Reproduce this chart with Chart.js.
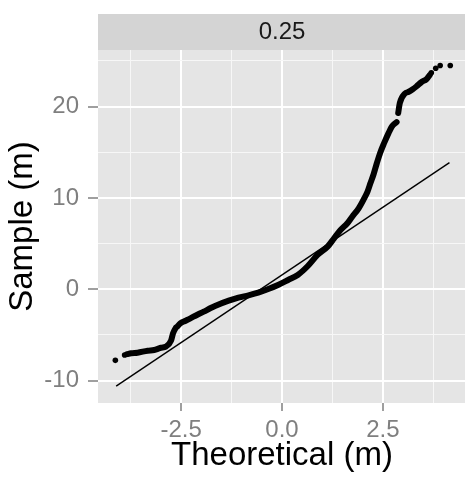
<!DOCTYPE html>
<html>
<head>
<meta charset="utf-8">
<script src="https://cdn.jsdelivr.net/npm/chart.js@4/dist/chart.umd.min.js"></script>
<style>
  html, body { margin: 0; padding: 0; background: #fff; overflow: hidden; }
  #wrap { position: relative; width: 470px; height: 477px; }
</style>
</head>
<body>
<div id="wrap"><canvas id="qq"></canvas></div>
<script>
  // facet label and axis setup
  const facetLabel = "0.25";
  const xTicks = [-3.75, -2.5, -1.25, 0, 1.25, 2.5, 3.75];
  const xLabelled = [-2.5, 0, 2.5];
  const yTicks = [-10, -5, 0, 5, 10, 15, 20, 25];
  const yLabelled = [-10, 0, 10, 20];

  // dense body of the sample quantiles
  const theoBody = [-3.84, -3.74, -3.58, -3.33, -3.17, -3.0, -2.88, -2.75, -2.70, -2.64, -2.60, -2.52, -2.39, -2.27, -2.11, -1.94,
    -1.78, -1.66, -1.32, -1.08, -0.83, -0.59, -0.34, -0.10, 0.15, 0.39, 0.64, 0.88, 1.13, 1.29, 1.45, 1.62, 1.74, 1.90,
    2.03, 2.12, 2.19, 2.27, 2.35, 2.43, 2.53, 2.64, 2.72, 2.84, 2.86, 2.88, 2.92, 3.05, 3.13, 3.24, 3.33, 3.46, 3.58, 3.66];
  const sampleBody = [-7.1, -7.0, -6.94, -6.72, -6.65, -6.4, -6.28, -5.63, -4.82, -4.27, -4.1, -3.72, -3.44, -3.18, -2.81, -2.45,
    -2.08, -1.83, -1.25, -0.92, -0.66, -0.37, 0.03, 0.47, 1.02, 1.57, 2.55, 3.76, 4.67, 5.58, 6.5, 7.23, 7.95, 8.87,
    9.9, 10.7, 11.6, 12.6, 13.8, 14.9, 16.0, 17.1, 17.8, 18.3, null, 19.3, 20.4, 21.45, 21.6, 21.9, 22.2, 22.7, 23.0, 23.45];

  // sparse extreme points
  const theoTail = [-4.13, -3.90, 3.70, 3.81, 3.92, 4.17];
  const sampleTail = [-7.78, -7.2, 23.7, 24.2, 24.5, 24.5];

  // reference line
  const lineTheo = [-4.11, 4.15];
  const lineSample = [-10.6, 13.87];

  const pts = (xs, ys) => xs.map((x, i) => ({ x: x, y: ys[i] }));
  const isIn = (list, v) => list.some((t) => Math.abs(t - v) < 1e-6);

  const font = "'Liberation Sans', Arial, sans-serif";

  const panelPlugin = {
    id: "panel",
    beforeDraw(chart) {
      const { ctx, chartArea: a } = chart;
      ctx.save();
      ctx.fillStyle = "#E5E5E5";
      ctx.fillRect(a.left, a.top, a.right - a.left, a.bottom - a.top);
      ctx.fillStyle = "#D4D4D4";
      ctx.fillRect(a.left, 14, a.right - a.left, a.top - 14);
      ctx.fillStyle = "#1A1A1A";
      ctx.font = "24px " + font;
      ctx.textAlign = "center";
      ctx.textBaseline = "middle";
      ctx.fillText(facetLabel, (a.left + a.right) / 2, 32);
      ctx.restore();
    }
  };

  new Chart(document.getElementById("qq"), {
    type: "scatter",
    data: {
      datasets: [
        {
          data: pts(theoBody, sampleBody),
          showLine: true,
          spanGaps: false,
          borderColor: "#000",
          borderWidth: 6,
          borderCapStyle: "round",
          borderJoinStyle: "round",
          cubicInterpolationMode: "monotone",
          pointRadius: 0
        },
        {
          data: pts(theoTail, sampleTail),
          backgroundColor: "#000",
          borderWidth: 0,
          pointRadius: 2.8
        },
        {
          data: pts(lineTheo, lineSample),
          showLine: true,
          borderColor: "#000",
          borderWidth: 1.4,
          pointRadius: 0
        }
      ]
    },
    options: {
      responsive: true,
      maintainAspectRatio: false,
      animation: false,
      layout: { padding: { top: 50, left: 0, right: 0, bottom: 0 } },
      plugins: { legend: { display: false }, tooltip: { enabled: false } },
      scales: {
        x: {
          type: "linear",
          min: -4.56,
          max: 4.56,
          afterBuildTicks: (scale) => { scale.ticks = xTicks.map((v) => ({ value: v })); },
          afterFit: (scale) => { scale.height = 74; },
          border: { display: false },
          grid: {
            color: (c) => isIn(xLabelled, c.tick.value) ? "#FFFFFF" : "#F7F7F7",
            lineWidth: (c) => isIn(xLabelled, c.tick.value) ? 2 : 1,
            tickColor: (c) => isIn(xLabelled, c.tick.value) ? "#7F7F7F" : "rgba(0,0,0,0)",
            tickLength: 8,
            tickWidth: 1.5
          },
          ticks: {
            padding: 5,
            maxRotation: 0,
            autoSkip: false,
            color: "#7F7F7F",
            font: { family: font, size: 24 },
            callback: (v) => isIn(xLabelled, v) ? v.toFixed(1) : ""
          },
          title: {
            display: true,
            text: "Theoretical (m)",
            color: "#000",
            font: { family: font, size: 33 },
            padding: { top: 0, bottom: 1 }
          }
        },
        y: {
          type: "linear",
          min: -12.45,
          max: 26.2,
          afterBuildTicks: (scale) => { scale.ticks = yTicks.map((v) => ({ value: v })); },
          afterFit: (scale) => { scale.width = 98; },
          border: { display: false },
          grid: {
            color: (c) => isIn(yLabelled, c.tick.value) ? "#FFFFFF" : "#F7F7F7",
            lineWidth: (c) => isIn(yLabelled, c.tick.value) ? 2 : 1,
            tickColor: (c) => isIn(yLabelled, c.tick.value) ? "#7F7F7F" : "rgba(0,0,0,0)",
            tickLength: 10,
            tickWidth: 1.5
          },
          ticks: {
            padding: 9,
            autoSkip: false,
            color: "#7F7F7F",
            font: { family: font, size: 24 },
            callback: (v) => isIn(yLabelled, v) ? String(v) : ""
          },
          title: {
            display: true,
            text: "Sample (m)",
            color: "#000",
            font: { family: font, size: 33 },
            padding: { top: 3, bottom: 0 }
          }
        }
      }
    },
    plugins: [panelPlugin]
  });
</script>
</body>
</html>
